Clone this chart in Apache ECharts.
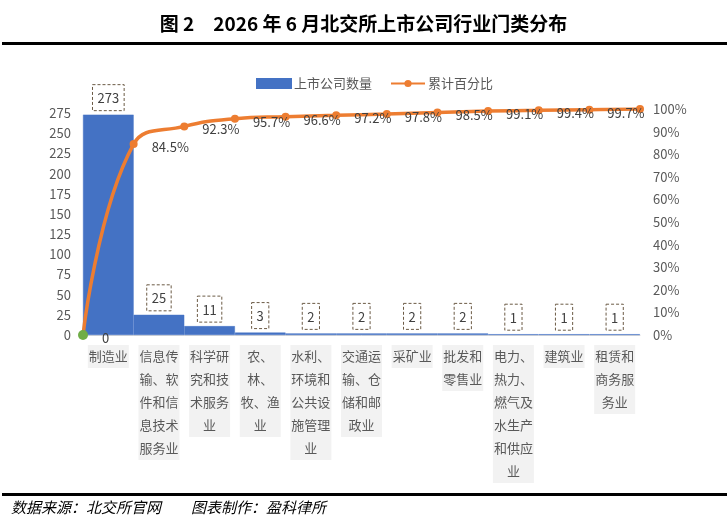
<!DOCTYPE html>
<html>
<head>
<meta charset="utf-8">
<script src="https://cdn.jsdelivr.net/npm/echarts@6/dist/echarts.min.js"></script>
<style>
  html, body { margin: 0; padding: 0; background: #fff; }
  #chart { width: 727px; height: 520px; }
</style>
</head>
<body>
<div id="chart"></div>
<script>
// 行业门类
const categories = [
    '制造业',
    '信息传\n输、软\n件和信\n息技术\n服务业',
    '科学研\n究和技\n术服务\n业',
    '农、\n林、\n牧、渔\n业',
    '水利、\n环境和\n公共设\n施管理\n业',
    '交通运\n输、仓\n储和邮\n政业',
    '采矿业',
    '批发和\n零售业',
    '电力、\n热力、\n燃气及\n水生产\n和供应\n业',
    '建筑业',
    '租赁和\n商务服\n务业'
];
// 上市公司数量
const companyCounts = [273, 25, 11, 3, 2, 2, 2, 2, 1, 1, 1];
// 累计百分比 (点落在柱子边界上, 从 0 开始)
const cumulativeSteps = ['0', '1', '2', '3', '4', '5', '6', '7', '8', '9', '10', '11'];
const cumulativePct = [0, 84.5, 92.3, 95.7, 96.6, 97.2, 97.8, 98.5, 99.1, 99.4, 99.7, 100];
const countTicks = [0, 275, 25];
const pctTicks = [0, 100, 10];

const FONT = '"Microsoft YaHei", "Noto Sans CJK SC", sans-serif';
const TEXT_GRAY = '#595959';

let myChart = echarts.init(document.getElementById('chart'));

myChart.setOption({
    animation: false,
    textStyle: { fontFamily: FONT },
    title: {
        text: '图 2　2026 年 6 月北交所上市公司行业门类分布',
        left: 'center',
        top: 9,
        textStyle: { fontSize: 19, fontWeight: 'bold', color: '#000', fontFamily: FONT }
    },
    graphic: [
        { type: 'rect', shape: { x: 2, y: 42, width: 725, height: 3 }, style: { fill: '#000' } },
        { type: 'rect', shape: { x: 2, y: 493, width: 725, height: 3 }, style: { fill: '#000' } },
        {
            type: 'text', left: 11, top: 500,
            style: {
                text: '数据来源：北交所官网　　图表制作：盈科律所',
                font: 'italic 15px ' + FONT,
                fill: '#000'
            }
        }
    ],
    legend: {
        top: 72,
        left: 251,
        itemWidth: 34,
        itemHeight: 9,
        itemGap: 18,
        textStyle: { fontSize: 13, color: TEXT_GRAY, padding: [0, 0, 0, -2] },
        data: [
            { name: '上市公司数量', icon: 'rect' },
            { name: '累计百分比' }
        ]
    },
    grid: { left: 83, right: 87, top: 109, bottom: 185 },
    xAxis: [
        {
            type: 'category',
            data: categories,
            axisLine: { show: true, lineStyle: { color: '#d9d9d9' } },
            axisTick: { show: false },
            axisLabel: {
                interval: 0,
                margin: 10,
                fontSize: 13,
                lineHeight: 23,
                color: TEXT_GRAY,
                backgroundColor: '#f2f2f2',
                padding: [0, 1, 0, 1]
            }
        },
        {
            type: 'category',
            data: cumulativeSteps,
            boundaryGap: false,
            show: false
        }
    ],
    yAxis: [
        {
            type: 'value',
            min: countTicks[0],
            max: 280,
            interval: countTicks[2],
            axisLabel: {
                fontSize: 13, color: TEXT_GRAY, margin: 12,
                showMaxLabel: false,
                formatter: v => (v > countTicks[1] ? '' : v)
            },
            splitLine: { show: false },
            axisLine: { show: false },
            axisTick: { show: false }
        },
        {
            type: 'value',
            min: pctTicks[0],
            max: pctTicks[1],
            interval: pctTicks[2],
            axisLabel: { fontSize: 13, color: TEXT_GRAY, margin: 13, formatter: '{value}%' },
            splitLine: { show: false },
            axisLine: { show: false },
            axisTick: { show: false }
        }
    ],
    series: [
        {
            name: '上市公司数量',
            type: 'bar',
            data: companyCounts,
            barCategoryGap: 0,
            itemStyle: { color: '#4472C4', borderColor: '#4472C4', borderWidth: 0.5 },
            label: {
                show: true,
                position: 'top',
                distance: 4,
                fontSize: 13,
                color: '#404040',
                padding: [7, 5, 6, 5],
                borderColor: '#6b5a45',
                borderWidth: 1,
                borderType: [3, 2]
            }
        },
        {
            name: '累计百分比',
            type: 'line',
            xAxisIndex: 1,
            yAxisIndex: 1,
            data: cumulativePct.map((v, i) => (i === 0
                ? { value: v, symbolSize: 10, itemStyle: { color: '#70AD47' } }
                : v)),
            smooth: 0.45,
            symbol: 'circle',
            symbolSize: 8,
            lineStyle: { color: '#ED7D31', width: 3.5 },
            itemStyle: { color: '#ED7D31' },
            z: 5,
            label: {
                show: true,
                position: 'right',
                distance: 14,
                offset: [0, 3],
                fontSize: 13,
                color: '#404040',
                formatter: p => {
                    if (p.dataIndex === 0) return '0';
                    if (p.dataIndex === cumulativePct.length - 1) return '';
                    return p.value + '%';
                }
            }
        }
    ]
});
</script>
</body>
</html>
